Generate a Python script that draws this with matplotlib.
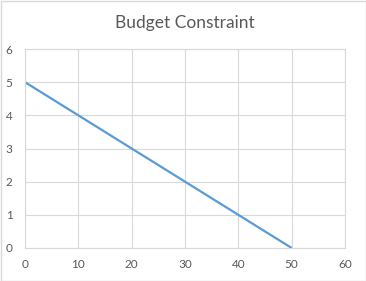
import matplotlib
matplotlib.use("Agg")
import matplotlib.pyplot as plt
from matplotlib.patches import Rectangle

title = "Budget Constraint"
x_vals = [0, 10, 20, 30, 40, 50]
y_vals = [5, 4, 3, 2, 1, 0]
x_ticks = [0, 10, 20, 30, 40, 50, 60]
y_ticks = [0, 1, 2, 3, 4, 5, 6]

plt.rcParams['font.family'] = ['Lato', 'DejaVu Sans']

fig = plt.figure(figsize=(3.66, 2.81), dpi=100)
fig.patch.set_facecolor('white')
fig.add_artist(Rectangle((0.5/366, 0.5/281), 365/366, 280/281, transform=fig.transFigure,
                         fill=False, edgecolor='#D9D9D9', linewidth=1))

ax = fig.add_axes([25/366, 1 - 248/281, 320/366, 199/281])
ax.plot(x_vals, y_vals, color='#5B9BD5', linewidth=1.6, solid_capstyle='butt')
ax.set_xlim(0, 60)
ax.set_ylim(0, 6)
ax.set_xticks(x_ticks)
ax.set_yticks(y_ticks)
ax.grid(True, color='#D9D9D9', linewidth=0.8)
ax.set_axisbelow(True)
for s in ax.spines.values():
    s.set_color('#D9D9D9')
    s.set_linewidth(0.8)
ax.tick_params(length=0, labelsize=8.5, labelcolor='#595959')
ax.tick_params(axis='x', pad=8)
ax.tick_params(axis='y', pad=9)
ax.set_title(title, fontsize=12.5, color='#595959', pad=15)

fig.savefig("out.png", dpi=100)
